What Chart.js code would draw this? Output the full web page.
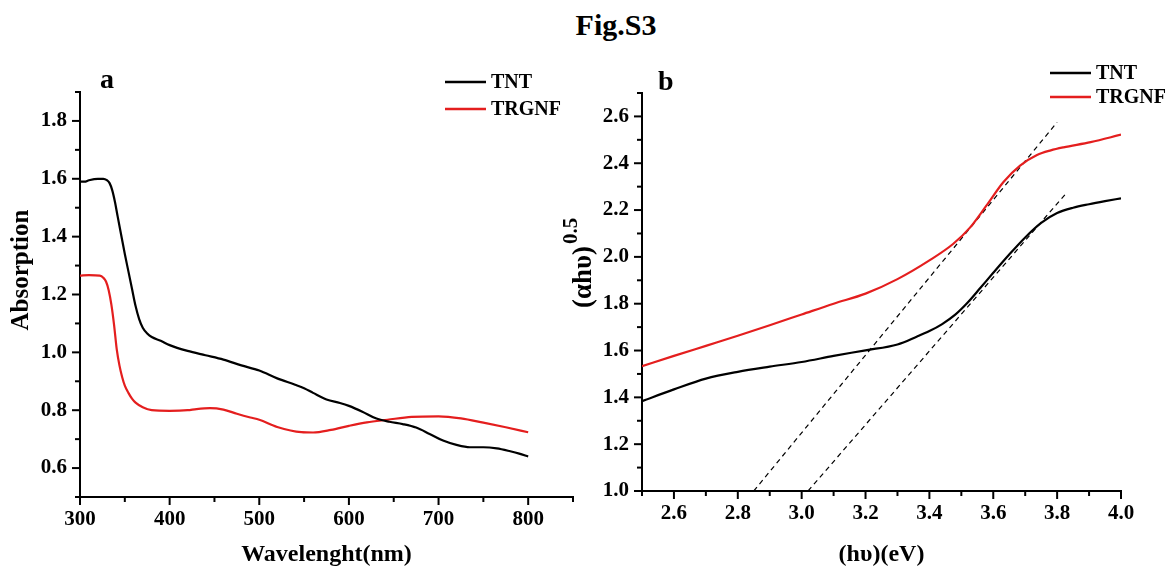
<!DOCTYPE html>
<html lang="en">
<head>
<meta charset="utf-8">
<title>Fig.S3</title>
<script src="https://cdn.jsdelivr.net/npm/chart.js"></script>
<style>
  body { margin: 0; background: #fff; width: 1169px; height: 571px; position: relative; overflow: hidden; }
  #title { position: absolute; left: 516px; top: 10px; width: 200px; text-align: center;
           font: bold 30px/30px "Liberation Serif", "Times New Roman", serif; color: #000; }
  .box { position: absolute; top: 0; }
  #boxA { left: 0; width: 590px; height: 571px; }
  #boxB { left: 550px; width: 619px; height: 571px; }
</style>
</head>
<body>
<div id="title">Fig.S3</div>
<div class="box" id="boxA"><canvas id="chartA" width="590" height="571"></canvas></div>
<div class="box" id="boxB"><canvas id="chartB" width="619" height="571"></canvas></div>
<script>
// panel a: absorption spectra
const wlTNT = [300, 305, 310, 320, 326, 330, 333, 336, 339, 342, 346, 350, 354, 358, 362, 366, 370, 375, 380, 390,
               400, 420, 440, 460, 480, 500, 520, 540, 550, 560, 575, 590, 600, 615, 630, 645, 660, 675, 690, 705,
               720, 735, 750, 765, 780, 790, 800];
const absTNT = [1.59, 1.59, 1.595, 1.60, 1.60, 1.595, 1.585, 1.56, 1.52, 1.47, 1.405, 1.34, 1.28, 1.22, 1.16, 1.115, 1.085, 1.065, 1.053, 1.04,
                1.025, 1.005, 0.99, 0.975, 0.955, 0.937, 0.91, 0.888, 0.876, 0.86, 0.837, 0.825, 0.815, 0.795, 0.772, 0.76, 0.752, 0.74, 0.718, 0.695,
                0.68, 0.672, 0.672, 0.668, 0.658, 0.65, 0.64];
const wlTRGNF = [300, 310, 322, 326, 329, 332, 335, 338, 341, 344, 347, 350, 354, 358, 362, 370, 380, 400, 420, 430,
                 445, 460, 475, 490, 500, 520, 547, 560, 580, 600, 620, 643, 670, 700, 725, 750, 775, 800];
const absTRGNF = [1.265, 1.267, 1.265, 1.258, 1.245, 1.215, 1.165, 1.095, 1.01, 0.955, 0.915, 0.885, 0.86, 0.84, 0.826, 0.81, 0.80, 0.798, 0.80, 0.804,
                  0.807, 0.802, 0.788, 0.775, 0.767, 0.742, 0.724, 0.723, 0.732, 0.746, 0.758, 0.767, 0.777, 0.779, 0.772, 0.757, 0.741, 0.724];

// panel b: Tauc plot
const evTNT = [2.5, 2.6, 2.7, 2.8, 2.9, 3.0, 3.1, 3.2, 3.3, 3.36, 3.4, 3.44, 3.48, 3.52, 3.56, 3.6, 3.65, 3.7, 3.75, 3.8,
               3.85, 3.9, 3.95, 4.0];
const ahvTNT = [1.384, 1.434, 1.48, 1.509, 1.531, 1.551, 1.577, 1.601, 1.626, 1.659, 1.683, 1.713, 1.752, 1.805, 1.868, 1.932, 2.01, 2.083, 2.145, 2.187,
                2.21, 2.225, 2.238, 2.25];
const evTRGNF = [2.5, 2.6, 2.7, 2.8, 2.9, 3.0, 3.1, 3.2, 3.3, 3.4, 3.474, 3.527, 3.579, 3.632, 3.684, 3.737, 3.78, 3.82, 3.905, 4.0];
const ahvTRGNF = [1.533, 1.577, 1.62, 1.663, 1.708, 1.754, 1.80, 1.843, 1.905, 1.985, 2.055, 2.125, 2.22, 2.32, 2.39, 2.435, 2.455, 2.468, 2.49, 2.522];
// extrapolated tangents (dashed)
const fitTRGNF_x = [2.85, 3.80];
const fitTRGNF_y = [1.0, 2.575];
const fitTNT_x = [3.02, 3.826];
const fitTNT_y = [1.0, 2.268];

const seriesNames = ['TNT', 'TRGNF'];
const seriesColors = ['#000000', '#e41e1e'];

const FONT = '"Liberation Serif", "Times New Roman", serif';
Chart.defaults.font.family = FONT;
Chart.defaults.font.weight = 'bold';
Chart.defaults.font.size = 21;
Chart.defaults.color = '#000';

function pts(xs, ys) { return xs.map((x, i) => ({x: x, y: ys[i]})); }
function isMajor(v, step) { return Math.abs(v / step - Math.round(v / step)) < 1e-6; }

// draws major/minor tick marks, panel letter, legend and y title
const decor = {
  id: 'decor',
  afterDraw(chart, args, o) {
    const ctx = chart.ctx;
    const xs = chart.scales.x, ys = chart.scales.y, a = chart.chartArea;
    ctx.save();
    ctx.strokeStyle = '#000';
    ctx.lineWidth = 2;
    xs.ticks.forEach(t => {
      const px = xs.getPixelForValue(t.value);
      const len = isMajor(t.value, o.xMajor) ? 8 : 5;
      ctx.beginPath(); ctx.moveTo(px, a.bottom); ctx.lineTo(px, a.bottom + len); ctx.stroke();
    });
    ys.ticks.forEach(t => {
      const py = ys.getPixelForValue(t.value);
      const len = isMajor(t.value, o.yMajor) ? 8 : 5;
      ctx.beginPath(); ctx.moveTo(a.left, py); ctx.lineTo(a.left - len, py); ctx.stroke();
    });

    ctx.fillStyle = '#000';
    ctx.font = 'bold 28px ' + FONT;
    ctx.textAlign = 'left';
    ctx.textBaseline = 'alphabetic';
    ctx.fillText(o.letter, o.letterX, o.letterY);

    ctx.font = 'bold 20px ' + FONT;
    ctx.textBaseline = 'middle';
    seriesNames.forEach((name, i) => {
      const y = o.legY[i];
      ctx.strokeStyle = seriesColors[i];
      ctx.lineWidth = 2.5;
      ctx.beginPath(); ctx.moveTo(o.legX, y); ctx.lineTo(o.legX + 41, y); ctx.stroke();
      ctx.fillText(name, o.legX + 46, y + 1);
    });

    ctx.translate(o.titleX, o.titleY);
    ctx.rotate(-Math.PI / 2);
    if (o.sup) {
      ctx.font = 'bold 27px ' + FONT;
      ctx.textAlign = 'left';
      ctx.fillText(o.yTitle, 0, 0);
      const w = ctx.measureText(o.yTitle).width;
      ctx.font = 'bold 21px ' + FONT;
      ctx.fillText(o.sup, w + 2, -12);
    } else {
      ctx.font = 'bold 25px ' + FONT;
      ctx.textAlign = 'center';
      ctx.fillText(o.yTitle, 0, 0);
    }
    ctx.restore();
  }
};

function lineSet(label, xs, ys, color) {
  return { label: label, data: pts(xs, ys), borderColor: color, borderWidth: 2.2,
           pointRadius: 0, cubicInterpolationMode: 'monotone', fill: false };
}

function axis(min, max, step, major, dec, size, pad, title) {
  const ax = {
    type: 'linear', min: min, max: max,
    grid: { display: false, drawTicks: false, tickLength: 0 },
    border: { display: true, color: '#000', width: 2 },
    ticks: { stepSize: step, autoSkip: false, maxRotation: 0, padding: pad,
             callback: v => isMajor(v, major) ? v.toFixed(dec) : '' },
    afterFit: s => { if (s.isHorizontal()) s.height = size; else s.width = size; }
  };
  if (title) ax.title = { display: true, text: title, font: { size: 24, weight: 'bold' }, padding: { top: 0, bottom: 2 } };
  return ax;
}

new Chart(document.getElementById('chartA'), {
  type: 'line',
  data: { datasets: [
    lineSet('TNT', wlTNT, absTNT, seriesColors[0]),
    lineSet('TRGNF', wlTRGNF, absTRGNF, seriesColors[1])
  ] },
  options: {
    responsive: false, animation: false, events: [],
    layout: { padding: { left: 0, top: 92, right: 17, bottom: 0 } },
    scales: {
      x: axis(300, 850, 50, 100, 0, 74, 10, 'Wavelenght(nm)'),
      y: axis(0.5, 1.9, 0.1, 0.2, 1, 80, 13)
    },
    plugins: {
      legend: { display: false }, tooltip: { enabled: false },
      decor: { xMajor: 100, yMajor: 0.2, letter: 'a', letterX: 100, letterY: 88,
               legX: 445, legY: [82, 109], yTitle: 'Absorption', titleX: 22, titleY: 270 }
    }
  },
  plugins: [decor]
});

new Chart(document.getElementById('chartB'), {
  type: 'line',
  data: { datasets: [
    lineSet('TNT', evTNT, ahvTNT, seriesColors[0]),
    lineSet('TRGNF', evTRGNF, ahvTRGNF, seriesColors[1]),
    { label: 'fit1', data: pts(fitTRGNF_x, fitTRGNF_y), borderColor: '#000', borderWidth: 1.2,
      borderDash: [5, 4], pointRadius: 0, fill: false },
    { label: 'fit2', data: pts(fitTNT_x, fitTNT_y), borderColor: '#000', borderWidth: 1.2,
      borderDash: [5, 4], pointRadius: 0, fill: false }
  ] },
  options: {
    responsive: false, animation: false, events: [],
    layout: { padding: { left: 0, top: 93, right: 48, bottom: 0 } },
    scales: {
      x: axis(2.5, 4.0, 0.1, 0.2, 1, 80, 10, '(h\u03c5)(eV)'),
      y: axis(1.0, 2.7, 0.1, 0.2, 1, 92, 13)
    },
    plugins: {
      legend: { display: false }, tooltip: { enabled: false },
      decor: { xMajor: 0.2, yMajor: 0.2, letter: 'b', letterX: 108, letterY: 90,
               legX: 500, legY: [73, 97], yTitle: '(\u03b1h\u03c5)', sup: '0.5', titleX: 34, titleY: 308 }
    }
  },
  plugins: [decor]
});
</script>
</body>
</html>
